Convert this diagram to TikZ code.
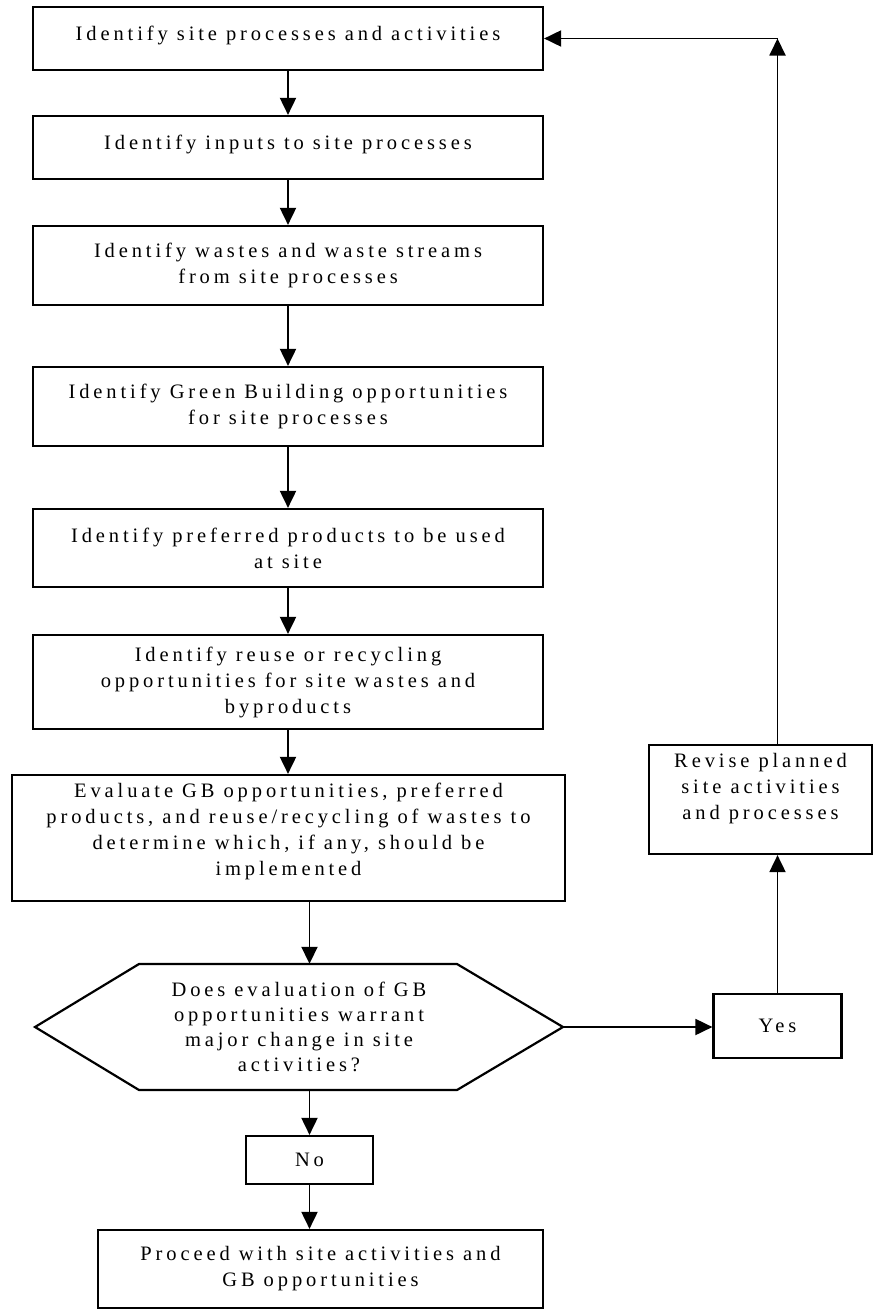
\documentclass[tikz,border=0pt]{standalone}
\usepackage{fontspec}
\setmainfont{Liberation Serif}[LetterSpace=19]
\usetikzlibrary{arrows.meta}
\newcommand{\liftup}[1]{\rule[-#1]{0pt}{0pt}}
\begin{document}
\begin{tikzpicture}[x=1pt,y=-1pt,
  stepbox/.style={draw, line width=2.2pt, inner sep=0pt, align=center,
    font=\fontsize{20.5}{26}\selectfont},
  hexbox/.style={inner sep=0pt, align=center, font=\fontsize{20.5}{25}\selectfont},
  hexline/.style={line width=2.2pt, line join=miter},
  arr/.style={line width=1.9pt, -{Triangle[length=17pt,width=16pt]}}]
\useasboundingbox (0,0) rectangle (874,1309);

\node[stepbox, minimum width=510pt, minimum height=63pt] (b1) at (288,38.5)
  {Identify site processes and activities\liftup{10pt}};
\node[stepbox, minimum width=510pt, minimum height=63pt] (b2) at (288,147.5)
  {Identify inputs to site processes\liftup{10pt}};
\node[stepbox, minimum width=510pt, minimum height=79pt] (b3) at (288,265.5)
  {Identify wastes and waste streams\\from site processes};
\node[stepbox, minimum width=510pt, minimum height=79pt] (b4) at (288,406.5)
  {Identify Green Building opportunities\\for site processes};
\node[stepbox, minimum width=510pt, minimum height=78pt] (b5) at (288,548)
  {Identify preferred products to be used\\at site};
\node[stepbox, minimum width=510pt, minimum height=94pt] (b6) at (288,682)
  {Identify reuse or recycling\\opportunities for site wastes and\\byproducts};
\node[stepbox, minimum width=553pt, minimum height=126pt] (b7) at (288.5,838)
  {Evaluate GB opportunities, preferred\\products, and reuse/recycling of wastes to\\determine which, if any, should be\\implemented\liftup{18pt}};

\draw[hexline] (35,1027) -- (139,964) -- (457,964) -- (563,1027) -- (457,1090) -- (139,1090) -- cycle;
\node[hexbox, minimum width=528pt, minimum height=126pt] (hex) at (299,1027)
  {Does evaluation of GB\\opportunities warrant\\major change in site\\activities?};

\node[stepbox, minimum width=128pt, minimum height=64pt] (yes) at (777.5,1026) {Yes};
\node[stepbox, minimum width=223pt, minimum height=109pt] (rev) at (760.5,799.5)
  {Revise planned\\site activities\\and processes\liftup{26pt}};
\node[stepbox, minimum width=127pt, minimum height=48pt] (no) at (309.5,1160) {No};
\node[stepbox, minimum width=445pt, minimum height=78pt] (b9) at (320.5,1269)
  {Proceed with site activities and\\GB opportunities};

\coordinate (corner) at (yes.north |- b1.east);

\draw[arr] (b1.south) -- (b2.north);
\draw[arr] (b2.south) -- (b3.north);
\draw[arr] (b3.south) -- (b4.north);
\draw[arr] (b4.south) -- (b5.north);
\draw[arr] (b5.south) -- (b6.north);
\draw[arr] (b6.south) -- (b6.south |- b7.north);
\draw[arr] (b7.south -| no.north) -- (hex.north -| no.north);
\draw[arr] (hex.south -| no.north) -- (no.north);
\draw[arr] (no.south) -- (no.south |- b9.north);
\draw[arr] (hex.east) -- (hex.east -| yes.west);
\draw[arr] (yes.north) -- (yes.north |- rev.south);
\draw[arr] (yes.north |- rev.north) -- (corner);
\draw[arr] (corner) -- (b1.east);
\end{tikzpicture}
\end{document}
